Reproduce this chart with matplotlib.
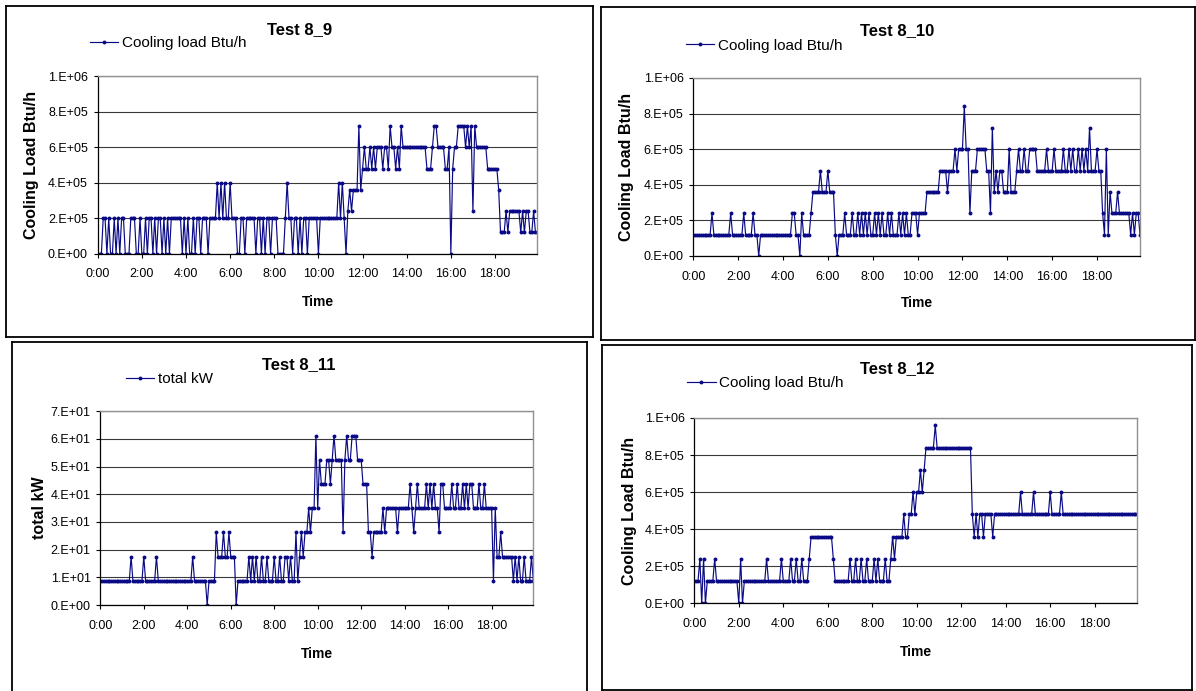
import matplotlib
matplotlib.use("Agg")
import matplotlib.pyplot as plt
from matplotlib.ticker import FuncFormatter, MultipleLocator
from matplotlib.lines import Line2D
import numpy as np

plt.rcParams['font.family'] = ['Liberation Sans', 'DejaVu Sans']

# readings every 5 minutes, 0:00 .. 19:55
step_min = 5
tick_labels = ["0:00", "2:00", "4:00", "6:00", "8:00", "10:00", "12:00", "14:00", "16:00", "18:00"]

titles = ["Test 8_9", "Test 8_10", "Test 8_11", "Test 8_12"]
series_names = ["Cooling load Btu/h", "Cooling load Btu/h", "total kW", "Cooling load Btu/h"]
ylabels = ["Cooling Load Btu/h", "Cooling Load Btu/h", "total kW", "Cooling Load Btu/h"]

# Test 8_9 cooling load, in 1e4 Btu/h
load_8_9 = [
    0, 0, 0, 20, 20, 0, 20, 0, 0, 20, 0, 20, 0, 20, 20, 0, 0, 0, 20, 20, 20, 0, 0, 20,
    0, 0, 20, 0, 20, 20, 0, 20, 0, 20, 20, 0, 20, 0, 20, 0, 20, 20, 20, 20, 20, 20, 0, 20,
    0, 20, 0, 0, 20, 0, 20, 20, 0, 20, 20, 20, 0, 20, 20, 20, 20, 40, 20, 40, 20, 40, 20, 20,
    40, 20, 20, 20, 0, 0, 20, 20, 0, 20, 20, 20, 20, 20, 0, 20, 20, 0, 20, 0, 20, 20, 0, 20,
    20, 20, 0, 0, 0, 0, 20, 40, 20, 20, 0, 20, 20, 0, 20, 0, 20, 20, 0, 20, 20, 20, 20, 20,
    0, 20, 20, 20, 20, 20, 20, 20, 20, 20, 20, 40, 20, 40, 20, 0, 24, 36, 24, 36, 36, 36, 72, 36,
    48, 60, 48, 48, 60, 48, 60, 48, 60, 60, 60, 48, 60, 60, 48, 72, 60, 60, 48, 60, 48, 72, 60, 60,
    60, 60, 60, 60, 60, 60, 60, 60, 60, 60, 60, 48, 48, 48, 60, 72, 72, 60, 60, 60, 60, 48, 48, 60,
    0, 48, 60, 60, 72, 72, 72, 72, 60, 72, 60, 72, 24, 72, 60, 60, 60, 60, 60, 60, 48, 48, 48, 48,
    48, 48, 36, 12, 12, 12, 24, 12, 24, 24, 24, 24, 24, 24, 12, 24, 12, 24, 24, 12, 12, 24, 12, 12,
]

# Test 8_10 cooling load, in steps of 1.2e5 Btu/h
load_8_10 = [
    1, 1, 1, 1, 1, 1, 1, 1, 1, 1, 2, 1, 1, 1, 1, 1, 1, 1, 1, 1, 2, 1, 1, 1,
    1, 1, 1, 2, 1, 1, 1, 1, 2, 1, 1, 0, 1, 1, 1, 1, 1, 1, 1, 1, 1, 1, 1, 1,
    1, 1, 1, 1, 1, 2, 2, 1, 1, 0, 2, 1, 1, 1, 1, 2, 3, 3, 3, 3, 4, 3, 3, 3,
    4, 3, 3, 3, 1, 0, 1, 1, 1, 2, 1, 1, 1, 2, 1, 1, 2, 1, 2, 1, 2, 1, 2, 1,
    1, 2, 1, 2, 1, 2, 1, 1, 2, 1, 2, 1, 1, 1, 2, 1, 2, 1, 2, 1, 1, 2, 2, 2,
    1, 2, 2, 2, 2, 3, 3, 3, 3, 3, 3, 3, 4, 4, 4, 4, 3, 4, 4, 4, 5, 4, 5, 5,
    5, 7, 5, 5, 2, 4, 4, 4, 5, 5, 5, 5, 5, 4, 4, 2, 6, 3, 4, 3, 4, 4, 3, 3,
    3, 5, 3, 3, 3, 4, 5, 4, 4, 5, 4, 4, 5, 5, 5, 5, 4, 4, 4, 4, 4, 5, 4, 4,
    4, 5, 4, 4, 4, 4, 5, 4, 4, 5, 4, 5, 4, 4, 5, 4, 5, 4, 5, 4, 6, 4, 4, 4,
    5, 4, 4, 2, 1, 5, 1, 3, 2, 2, 2, 3, 2, 2, 2, 2, 2, 2, 1, 2, 1, 2, 2, 1,
]

# Test 8_11 total kW, in steps of 8.75 kW
kw_8_11 = [
    1, 1, 1, 1, 1, 1, 1, 1, 1, 1, 1, 1, 1, 1, 1, 1, 1, 2, 1, 1, 1, 1, 1, 1,
    2, 1, 1, 1, 1, 1, 1, 2, 1, 1, 1, 1, 1, 1, 1, 1, 1, 1, 1, 1, 1, 1, 1, 1,
    1, 1, 1, 2, 1, 1, 1, 1, 1, 1, 1, 0, 1, 1, 1, 1, 3, 2, 2, 2, 3, 2, 2, 3,
    2, 2, 2, 0, 1, 1, 1, 1, 1, 1, 2, 1, 2, 1, 2, 1, 1, 2, 1, 1, 2, 1, 1, 1,
    2, 1, 1, 2, 1, 1, 2, 2, 1, 2, 1, 1, 3, 1, 2, 3, 2, 3, 3, 4, 3, 4, 4, 7,
    4, 6, 5, 5, 5, 6, 6, 5, 6, 7, 6, 6, 6, 6, 3, 6, 7, 6, 6, 7, 7, 7, 6, 6,
    6, 5, 5, 5, 3, 3, 2, 3, 3, 3, 3, 3, 4, 3, 4, 4, 4, 4, 4, 4, 3, 4, 4, 4,
    4, 4, 4, 5, 4, 3, 4, 5, 4, 4, 4, 4, 5, 4, 5, 4, 5, 4, 4, 3, 5, 5, 4, 4,
    4, 4, 5, 4, 4, 5, 4, 4, 5, 4, 5, 4, 5, 5, 4, 4, 4, 5, 4, 4, 5, 4, 4, 4,
    4, 1, 4, 2, 2, 3, 2, 2, 2, 2, 2, 2, 1, 2, 1, 2, 1, 1, 2, 1, 1, 1, 2, 1,
]

# Test 8_12 cooling load, in steps of 1.2e5 Btu/h
load_8_12 = [
    1, 1, 1, 2, 0, 2, 0, 1, 1, 1, 1, 2, 1, 1, 1, 1, 1, 1, 1, 1, 1, 1, 1, 1,
    0, 2, 0, 1, 1, 1, 1, 1, 1, 1, 1, 1, 1, 1, 1, 2, 1, 1, 1, 1, 1, 1, 1, 2,
    1, 1, 1, 1, 2, 1, 1, 2, 1, 1, 2, 1, 1, 1, 2, 3, 3, 3, 3, 3, 3, 3, 3, 3,
    3, 3, 3, 2, 1, 1, 1, 1, 1, 1, 1, 1, 2, 1, 1, 2, 1, 1, 2, 1, 1, 2, 1, 1,
    1, 2, 1, 2, 1, 1, 1, 2, 1, 1, 2, 3, 2, 3, 3, 3, 3, 4, 3, 3, 4, 4, 5, 4,
    5, 5, 6, 5, 6, 7, 7, 7, 7, 7, 8, 7, 7, 7, 7, 7, 7, 7, 7, 7, 7, 7, 7, 7,
    7, 7, 7, 7, 7, 7, 4, 3, 4, 3, 4, 4, 3, 4, 4, 4, 4, 3, 4, 4, 4, 4, 4, 4,
    4, 4, 4, 4, 4, 4, 4, 4, 5, 4, 4, 4, 4, 4, 4, 5, 4, 4, 4, 4, 4, 4, 4, 4,
    5, 4, 4, 4, 4, 4, 5, 4, 4, 4, 4, 4, 4, 4, 4, 4, 4, 4, 4, 4, 4, 4, 4, 4,
    4, 4, 4, 4, 4, 4, 4, 4, 4, 4, 4, 4, 4, 4, 4, 4, 4, 4, 4, 4, 4, 4, 4, 4,
]

series = [np.array(load_8_9) * 1e4, np.array(load_8_10) * 1.2e5,
          np.array(kw_8_11) * 8.75, np.array(load_8_12) * 1.2e5]
y_max = [1e6, 1e6, 70, 1e6]
y_step = [2e5, 2e5, 10, 2e5]

W, H = 1196, 691
fig = plt.figure(figsize=(W / 100, H / 100), dpi=100)
fig.patch.set_facecolor('white')

# pixel layout of each chart: frame box, plot area, title y, legend pos, y-label x, "Time" y
layout = [
    dict(box=(5.7, 6, 592.7, 337), plot=(97.7, 76.3, 537.3, 253.7), ty=29.3, leg=(90, 43.3), ylx=32, tmy=301.7),
    dict(box=(600.7, 7, 1194.5, 340), plot=(693.3, 78, 1140, 256), ty=30.7, leg=(686, 45.7), ylx=626.7, tmy=302.7),
    dict(box=(11.7, 341.7, 586.7, 720), plot=(100.3, 411.3, 533.3, 605), ty=365, leg=(126, 379.3), ylx=39.3, tmy=654.3),
    dict(box=(602, 344.7, 1191.7, 690), plot=(694.3, 418, 1137.3, 603.3), ty=368.3, leg=(687.3, 383.3), ylx=629.3, tmy=652.3),
]

def fx(x):
    return x / W

def fy(y):
    return 1 - y / H

navy = '#0a0a86'
fmt = FuncFormatter(lambda v, p: format(v, '#.0E'))

for i, lay in enumerate(layout):
    bx0, by0, bx1, by1 = lay['box']
    for xs, ys in [((bx0, bx1), (by0, by0)), ((bx0, bx1), (by1, by1)),
                   ((bx0, bx0), (by0, by1)), ((bx1, bx1), (by0, by1))]:
        fig.add_artist(Line2D([fx(x) for x in xs], [fy(y) for y in ys],
                              color='black', lw=1.3, transform=fig.transFigure))

    x0, y0, x1, y1 = lay['plot']
    ax = fig.add_axes([fx(x0), fy(y1), fx(x1) - fx(x0), (y1 - y0) / H])
    vals = series[i]
    hours = np.arange(len(vals)) * step_min / 60.0
    line, = ax.plot(hours, vals, color=navy, lw=0.85, marker='o', ms=1.8,
                    mfc=navy, mec=navy)
    ax.set_xlim(0, hours[-1])
    ax.set_ylim(0, y_max[i])
    ax.yaxis.set_major_locator(MultipleLocator(y_step[i]))
    ax.yaxis.set_major_formatter(fmt)
    ax.set_xticks(np.arange(len(tick_labels)) * 2)
    ax.set_xticklabels(tick_labels)
    ax.tick_params(axis='both', direction='out', length=3, width=0.8, labelsize=9, colors='black')
    ax.tick_params(axis='y', pad=4)
    ax.tick_params(axis='x', pad=7.5)
    ax.grid(axis='y', color='#3a3a3a', lw=0.8)
    ax.set_axisbelow(True)
    for s in ['top', 'right']:
        ax.spines[s].set_color('#909090')
        ax.spines[s].set_linewidth(1.0)
    for s in ['left', 'bottom']:
        ax.spines[s].set_color('black')
        ax.spines[s].set_linewidth(0.9)

    fig.text(fx((bx0 + bx1) / 2), fy(lay['ty']), titles[i], ha='center', va='center',
             fontsize=12, fontweight='bold')
    fig.text(fx(lay['ylx']), fy((y0 + y1) / 2), ylabels[i], ha='center', va='center',
             rotation=90, fontsize=11.5, fontweight='bold')
    fig.text(fx((x0 + x1) / 2), fy(lay['tmy']), "Time", ha='center', va='center',
             fontsize=10, fontweight='bold')
    lx, ly = lay['leg']
    fig.legend([line], [series_names[i]], loc='center left',
               bbox_to_anchor=(fx(lx), fy(ly)), bbox_transform=fig.transFigure,
               frameon=False, fontsize=11, handlelength=1.85, handletextpad=0.25,
               borderpad=0, borderaxespad=0, numpoints=1)

fig.savefig('out.png', dpi=100, facecolor='white')
